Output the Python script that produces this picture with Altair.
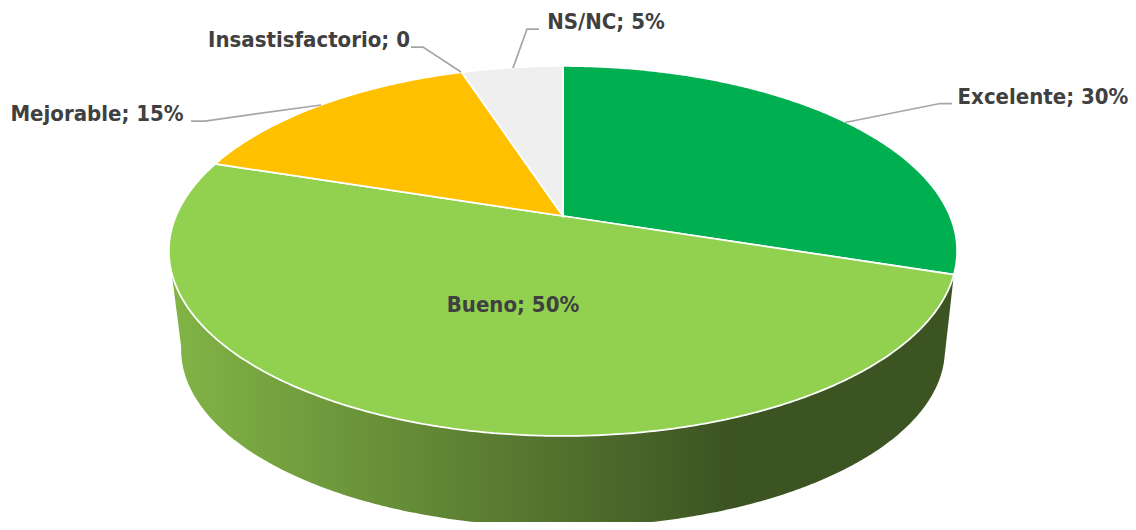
import math
import altair as alt

categories = ["Excelente", "Bueno", "Mejorable", "Insastisfactorio", "NS/NC"]
values = [30, 50, 15, 0, 5]
colors = ["#00B050", "#92D050", "#FFC000", "#A5A5A5", "#EFEFEF"]
labels = ["Excelente; 30%", "Bueno; 50%", "Mejorable; 15%", "Insastisfactorio; 0", "NS/NC; 5%"]
label_x = [1043, 513, 97, 309, 606]
label_y = [97, 305, 114, 40, 22]
leader_x = [[845, 940, 952], None, [321, 205, 191], [461, 423, 411], [513, 527, 539]]
leader_y = [[122.5, 103.5, 103.5], None, [105, 121, 121], [72, 47, 47], [68, 29, 29]]

# perspective of the pie's two planes
CX, TILT = 563, -0.189
TOP = dict(y0=216, a=178.4, c=387)
BOT = dict(y0=316, a=171, c=375)


def rim(theta_deg, p):
    t = math.radians(theta_deg)
    X, Y = math.sin(t), -math.cos(t)
    d = 1 + TILT * Y
    return [CX + p["c"] * X / d, p["y0"] + p["a"] * Y / d]


def arc(a0, a1, p):
    n = max(2, int(abs(a1 - a0) * 2))
    return [rim(a0 + (a1 - a0) * i / n, p) for i in range(n + 1)]


def feature(coords, kind="Polygon", **props):
    return {"type": "Feature", "properties": props,
            "geometry": {"type": kind, "coordinates": [coords] if kind == "Polygon" else coords}}


slices = []
start = 0.0
for cat, v in zip(categories, values):
    end = start + v * 3.6
    if v > 0:
        ring = [[CX, TOP["y0"]]] + arc(start, end, TOP) + [[CX, TOP["y0"]]]
        slices.append(feature(ring, cat=cat))
    start = end

bueno_start = values[0] * 3.6
wall_ring = arc(bueno_start, 252.5, TOP) + arc(260, bueno_start - 5, BOT)
wall_ring.append(wall_ring[0])

leaders = [feature([list(p) for p in zip(lx, ly)], kind="LineString")
           for lx, ly in zip(leader_x, leader_y) if lx]
text_rows = [{"label": t, "lx": x, "ly": y} for t, x, y in zip(labels, label_x, label_y)]

wall = alt.Chart(alt.Data(values=[feature(wall_ring)])).mark_geoshape(
    fill=alt.Gradient(
        gradient="linear", x1=0, x2=1, y1=0, y2=0,
        stops=[
            alt.GradientStop(offset=0, color="#82B446"),
            alt.GradientStop(offset=0.72, color="#3C5322"),
            alt.GradientStop(offset=1, color="#3C5322"),
        ],
    ),
    stroke=None,
)

top = alt.Chart(alt.Data(values=slices)).mark_geoshape(
    stroke="#FFFFFF", strokeWidth=1.75
).encode(
    color=alt.Color("properties.cat:N",
                    scale=alt.Scale(domain=categories, range=colors), legend=None)
)

lines = alt.Chart(alt.Data(values=leaders)).mark_geoshape(
    filled=False, stroke="#A6A6A6", strokeWidth=1.75
)

text = alt.Chart(alt.Data(values=text_rows)).mark_text(
    font="DejaVu Sans Condensed", fontWeight="bold", fontSize=22,
    color="#404040", align="center", baseline="middle"
).encode(longitude="lx:Q", latitude="ly:Q", text="label:N")

chart = alt.layer(wall, top, lines, text).project(
    type="identity", scale=1, translate=[-8, -8]
).properties(width=1120, height=514, padding=0, background="#FFFFFF").configure_view(stroke=None)

chart.save("out.html", embed_options={"renderer": "svg", "actions": False})
